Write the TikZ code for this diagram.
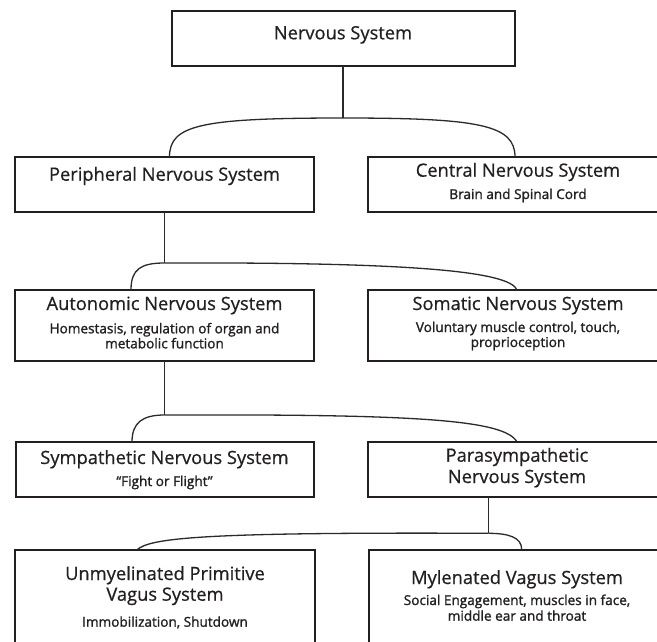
\documentclass[tikz,border=0pt]{standalone}
\usepackage{fontspec}
\setmainfont{Open Sans}
\newfontfamily\ttlfont{Open Sans}[FakeBold=0.6]
\newfontfamily\subfont{Open Sans}[FakeBold=1.4]
\usetikzlibrary{calc}
\definecolor{ink}{HTML}{231F20}
\definecolor{wirec}{HTML}{2A2A2A}
\begin{document}
\begin{tikzpicture}[x=1pt,y=-1pt,
  box/.style={draw=ink,line width=2pt,outer sep=0pt,inner sep=0pt,anchor=north west},
  ttl/.style={anchor=base,inner sep=0pt,text=ink,font=\ttlfont\fontsize{18.3}{21}\selectfont},
  sub/.style={anchor=base,inner sep=0pt,text=ink,font=\subfont\fontsize{13.6}{15}\selectfont},
  wire/.style={draw=wirec,line width=1.3pt}]
\clip (0,0) rectangle (657,641);
\fill[white] (0,0) rectangle (657,641);
% boxes
\node[box,minimum width=343pt,minimum height=55pt] (ns)  at (171.5,11) {};
\node[box,minimum width=299pt,minimum height=55pt] (pns) at (15,157) {};
\node[box,minimum width=300pt,minimum height=54.5pt] (cns) at (368,157) {};
\node[box,minimum width=299pt,minimum height=71pt] (ans) at (15,290) {};
\node[box,minimum width=300pt,minimum height=71pt] (sns) at (368,290) {};
\node[box,minimum width=298pt,minimum height=55pt] (sym) at (16,442) {};
\node[box,minimum width=300pt,minimum height=55pt] (psy) at (368,442) {};
\node[box,minimum width=300pt,minimum height=110pt] (unm) at (15,550) {};
\node[box,minimum width=299pt,minimum height=110pt] (myl) at (369,549.5) {};
% texts
\node[ttl] (nsT) at (343,39.3) {Nervous System};
\node[ttl] (pnsT) at (164.5,180.7) {Peripheral Nervous System};
\node[ttl] (cnsT) at (518,176.7) {Central Nervous System};
\node[sub] (cnsS) at (518,199) {Brain and Spinal Cord};
\node[ttl] (ansT) at (164.5,310) {Autonomic Nervous System};
\node[sub] (ansS1) at (164.5,333.3) {Homestasis, regulation of organ and};
\node[sub] (ansS2) at (164.5,348.3) {metabolic function};
\node[ttl] (snsT) at (518,310) {Somatic Nervous System};
\node[sub] (snsS1) at (518,332) {Voluntary muscle control, touch,};
\node[sub] (snsS2) at (518,347) {proprioception};
\node[ttl] (symT) at (164.5,464) {Sympathetic Nervous System};
\node[sub] (symS) at (164.5,486) {“Fight or Flight”};
\node[ttl] (psyT1) at (517,461.7) {Parasympathetic};
\node[ttl] (psyT2) at (517,483) {Nervous System};
\node[ttl] (unmT1) at (165,580) {Unmyelinated Primitive};
\node[ttl] (unmT2) at (165,600.7) {Vagus System};
\node[sub] (unmS) at (165,626.7) {Immobilization, Shutdown};
\node[ttl] (mylT) at (517,584) {Mylenated Vagus System};
\node[sub] (mylS1) at (517,605) {Social Engagement, muscles in face,};
\node[sub] (mylS2) at (517,620.7) {middle ear and throat};
% junctions
\coordinate (j1) at ($(ns.south)+(0,52)$);
\coordinate (j2) at (164.5,263);
\coordinate (j3) at (164.5,415);
\coordinate (j4) at (488.3,533.3);
% connectors
\draw[wire] (ns.south) -- (j1);
\draw[wire] (j1) .. controls (200,118) and (169.5,125) .. ($(pns.north west)+(154.5,0)$);
\draw[wire] (j1) .. controls (480,118) and (515,125) .. ($(cns.north west)+(147,0)$);
\draw[wire] (pns.south west -| j2) -- (j2);
\draw[wire] (j2) .. controls (141,263) and (131,269) .. ($(ans.north west)+(116,0)$);
\draw[wire] (j2) .. controls (420,262) and (510,272) .. ($(sns.north west)+(149,0)$);
\draw[wire] (ans.south west -| j3) -- (j3);
\draw[wire] (j3) .. controls (142,415) and (132,423) .. ($(sym.north west)+(116,0)$);
\draw[wire] (j3) .. controls (420,414) and (505,420) .. ($(psy.north west)+(149,0)$);
\draw[wire] (psy.south west -| j4) -- (j4);
\draw[wire] (j4) .. controls (508,533.3) and (521.7,537) .. ($(myl.north west)+(152.7,0)$);
\draw[wire] (j4) .. controls (200,532) and (150,538) .. ($(unm.north west)+(121.7,0)$);
\end{tikzpicture}
\end{document}
